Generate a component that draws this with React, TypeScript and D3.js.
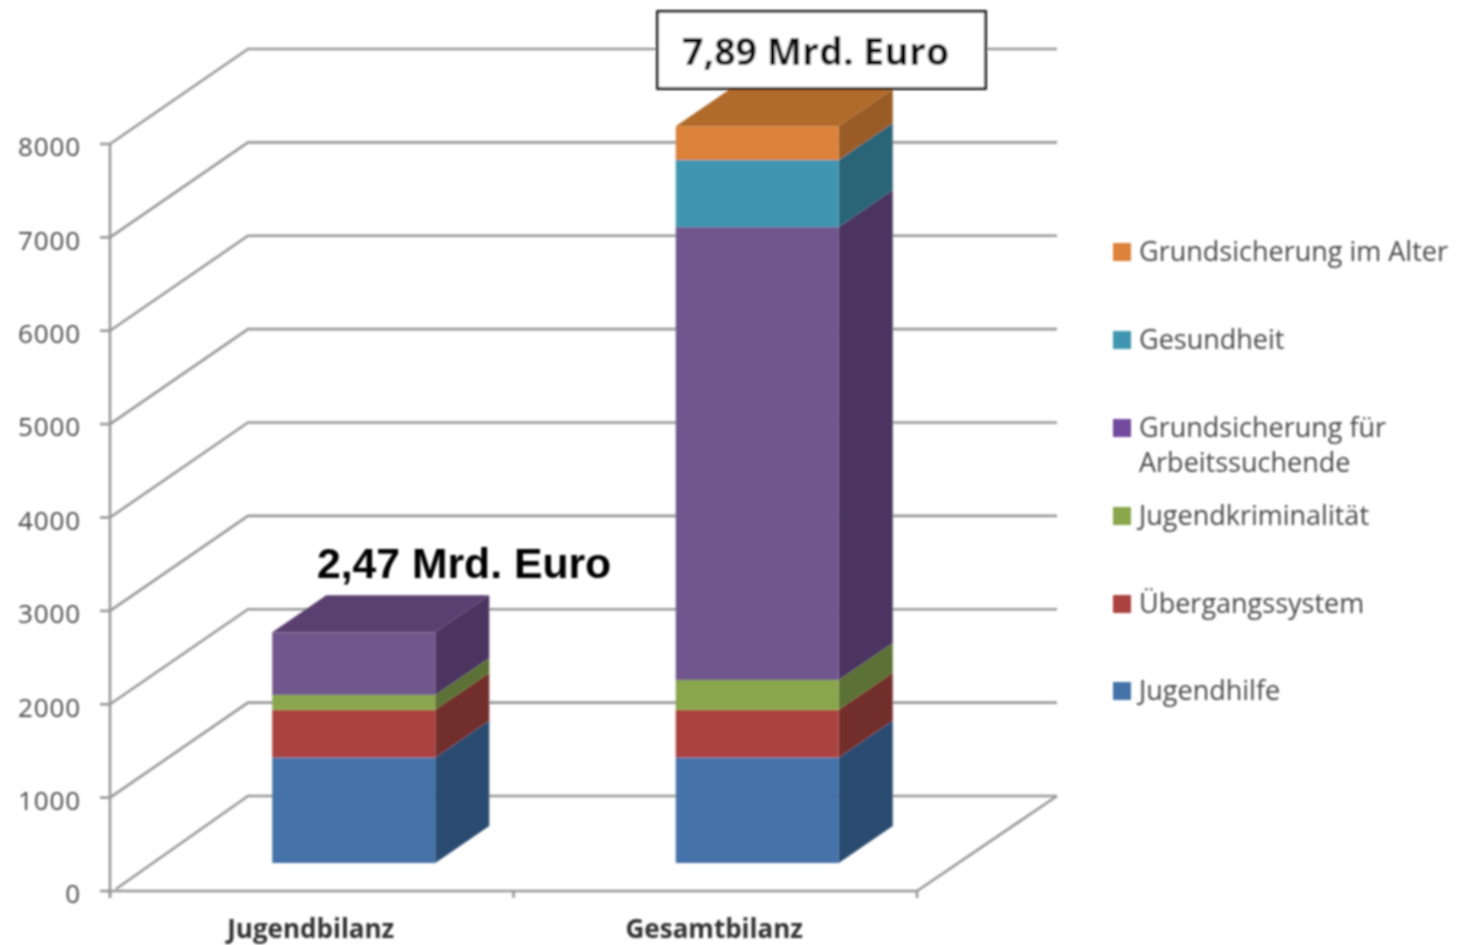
import React from 'react';
import * as d3 from 'd3';

const categories = ['Jugendbilanz', 'Gesamtbilanz'];
const seriesNames = ['Jugendhilfe', 'Übergangssystem', 'Jugendkriminalität', 'Grundsicherung für Arbeitssuchende', 'Gesundheit', 'Grundsicherung im Alter'];
const jugendbilanz = [1130, 510, 160, 670, 0, 0];
const gesamtbilanz = [1130, 510, 320, 4850, 720, 360];
const yTicks = [0, 1000, 2000, 3000, 4000, 5000, 6000, 7000, 8000];
const totals = ['2,47 Mrd. Euro', '7,89 Mrd. Euro'];

const frontColors = ['#4472a8', '#aa4340', '#8aa64e', '#71568d', '#4096b0', '#dd823b'];
const sideColors = ['#2b4b70', '#722d2b', '#5c7134', '#4b3560', '#2a6577', '#9a5c28'];
const topColors = ['#2f5480', '#80312f', '#66803a', '#5a4070', '#2f7389', '#b06a2c'];
const legendColors = ['#4472a8', '#aa4340', '#8aa64e', '#71489d', '#4096b0', '#dd823b'];

const width = 1457;
const height = 945;
const font = '"Open Sans", sans-serif';
const axisColor = '#989898';

// oblique projection of the 3d box
const wallDx = 138;
const wallDy = -95;
const barShiftX = 42;
const barShiftY = -28;
const barDepthX = 54;
const barDepthY = -37;
const barWidth = 163;

const y = d3.scaleLinear().domain([0, 8000]).range([891, 144]);
const x = d3.scaleBand().domain(categories).range([110, 917]);

const rows = categories.map((c, i) => {
  const row: Record<string, number | string> = { category: c };
  seriesNames.forEach((s, j) => {
    row[s] = (i === 0 ? jugendbilanz : gesamtbilanz)[j];
  });
  return row;
});
const stacked = d3.stack<any>().keys(seriesNames)(rows);

const poly = d3.line<[number, number]>().curve(d3.curveLinearClosed);
const seg = d3.line<[number, number]>();

const App: React.FC = () => {
  const x0 = x.range()[0];
  const x1 = x.range()[1];
  const backX0 = x0 + wallDx;
  const backX1 = x1 + wallDx + 2;
  return (
    <svg width={width} height={height} style={{ position: 'absolute', left: 0, top: 0, background: '#fff' }}>
      <defs>
        <filter id="soft" x="-5%" y="-5%" width="110%" height="110%">
          <feGaussianBlur stdDeviation="0.8" />
        </filter>
      </defs>
      <g filter="url(#soft)">
        {/* walls and grid */}
        <g fill="none" stroke={axisColor} strokeWidth={2.6}>
          {yTicks.map(t => (
            <path
              key={t}
              d={seg([[x0 + (t === 0 ? 6 : 0), y(t) - (t === 0 ? 2 : 0)], [backX0, y(t) + wallDy], [backX1, y(t) + wallDy]]) || ''}
            />
          ))}
          <path d={seg([[x0, y(8000)], [x0, y(0) + 7]]) || ''} />
          <path d={seg([[x0, y(0)], [x1, y(0)], [backX1, y(0) + wallDy]]) || ''} />
          {yTicks.map(t => (
            <path key={t} d={seg([[x0 - 10, y(t)], [x0, y(t)]]) || ''} />
          ))}
          {[x0, x0 + x.step(), x1].map(v => (
            <path key={v} d={seg([[v, y(0)], [v, y(0) + 7]]) || ''} />
          ))}
        </g>

        {/* tick labels */}
        <g fontFamily={font} fontSize={26} letterSpacing={0.9} fill="#4a4a4a" textAnchor="end">
          {yTicks.map(t => (
            <text key={t} x={81} y={y(t) + 3} dy="0.36em">{t}</text>
          ))}
        </g>
        <g fontFamily={font} fontSize={26} fontWeight={700} fill="#333" textAnchor="middle">
          {categories.map(c => (
            <text key={c} x={(x(c) || 0) + x.bandwidth() / 2 - 1} y={938}>{c}</text>
          ))}
        </g>

        {/* stacked 3d bars */}
        {categories.map((c, i) => {
          const cx = (x(c) || 0) + x.bandwidth() / 2 + barShiftX;
          const left = cx - barWidth / 2;
          const right = cx + barWidth / 2;
          const visible = stacked.filter(s => s[i][1] > s[i][0]);
          const last = visible[visible.length - 1];
          const topY = y(last[i][1]) + barShiftY;
          const lastIdx = seriesNames.indexOf(last.key);
          return (
            <g key={c}>
              {visible.map(s => {
                const idx = seriesNames.indexOf(s.key);
                const yb = y(s[i][0]) + barShiftY;
                const yt = y(s[i][1]) + barShiftY;
                return (
                  <g key={s.key}>
                    <path
                      fill={sideColors[idx]}
                      d={poly([[right, yb], [right + barDepthX, yb + barDepthY], [right + barDepthX, yt + barDepthY], [right, yt]]) || ''}
                    />
                    <rect x={left} y={yt} width={barWidth} height={yb - yt} fill={frontColors[idx]} />
                  </g>
                );
              })}
              <path
                fill={topColors[lastIdx]}
                d={poly([[left, topY], [left + barDepthX, topY + barDepthY], [right + barDepthX, topY + barDepthY], [right, topY]]) || ''}
              />
            </g>
          );
        })}

        {/* totals */}
        <text x={317} y={578} fontFamily='"Liberation Sans", Arial, sans-serif' fontWeight={700} fontSize={42.7} fill="#000">
          {totals[0]}
        </text>
        <rect x={657.5} y={11.5} width={328} height={77} fill="#fff" stroke="#111" strokeWidth={2.8} />
        <text x={682} y={65} fontFamily={font} fontWeight={700} fontSize={37.5} fill="#0a0a0a">
          {totals[1]}
        </text>

        {/* legend */}
        <g fontFamily={font} fontSize={27} fill="#4a4a4a">
          {[...seriesNames].reverse().map((name, i) => {
            const idx = seriesNames.length - 1 - i;
            const cy = [252, 340, 428, 516, 604, 691][i];
            const lines = name === 'Grundsicherung für Arbeitssuchende'
              ? ['Grundsicherung für', 'Arbeitssuchende']
              : [name];
            return (
              <g key={name}>
                <rect x={1113} y={cy - 9} width={18} height={18} fill={legendColors[idx]} />
                {lines.map((l, k) => (
                  <text key={l} x={1139} y={cy + 9 + k * 35}>{l}</text>
                ))}
              </g>
            );
          })}
        </g>
      </g>
    </svg>
  );
};

export default App;
